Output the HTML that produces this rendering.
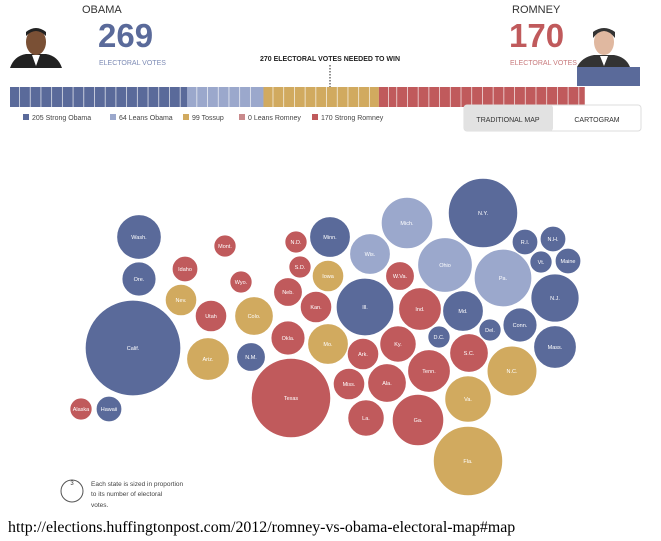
<!DOCTYPE html>
<html><head><meta charset="utf-8"><style>
body{margin:0;background:#fff;width:661px;height:541px;overflow:hidden;font-family:"Liberation Sans",sans-serif}
svg{position:absolute;left:0;top:0}
.url{position:absolute;left:8px;top:519px;font-family:"Liberation Serif",serif;font-size:15.9px;color:#000}
</style></head><body>
<svg width="661" height="541">
<g>
<rect x="10" y="28" width="52" height="40" fill="#fff"/>
<path d="M10 68 Q14 56 26 54 L46 54 Q58 56 62 68 Z" fill="#222"/>
<path d="M32 55 L36 66 L40 55 Z" fill="#fff"/>
<ellipse cx="36" cy="42" rx="10" ry="13" fill="#7a5035"/>
<path d="M26 36 Q36 26 46 36 L46 32 Q36 24 26 32Z" fill="#222"/>
</g>
<g>
<rect x="577" y="67" width="63" height="19" fill="#5a6a9a"/>
<path d="M577 67 Q582 57 594 55 L614 55 Q626 57 630 67 Z" fill="#333"/>
<path d="M600 56 L604 66 L608 56 Z" fill="#fff"/>
<ellipse cx="604" cy="42" rx="10" ry="13" fill="#e0b8a0"/>
<path d="M593 38 Q604 24 615 38 L615 32 Q604 24 593 32Z" fill="#333"/>
</g>
<text x="82" y="13" font-size="11" fill="#333">OBAMA</text>
<text x="98" y="47" font-size="33" font-weight="bold" fill="#5a6a9a">269</text>
<text x="99" y="65" font-size="7" fill="#7d8bb5">ELECTORAL VOTES</text>
<text x="512" y="13" font-size="11" fill="#333">ROMNEY</text>
<text x="509" y="47" font-size="33" font-weight="bold" fill="#c05a5c">170</text>
<text x="510" y="65" font-size="7" fill="#c87a7c">ELECTORAL VOTES</text>
<text x="330" y="61" font-size="7" font-weight="bold" fill="#222" text-anchor="middle">270 ELECTORAL VOTES NEEDED TO WIN</text>
<line x1="330" y1="65" x2="330" y2="88" stroke="#222" stroke-dasharray="1.5,1.5"/>
<g id="bar"></g>
<g id="legend"></g>
<g>
<rect x="464" y="105" width="177" height="26" rx="3" fill="#fff" stroke="#ddd"/>
<rect x="464" y="105" width="89" height="26" rx="3" fill="#e2e2e2"/>
<text x="508" y="122" font-size="7" fill="#333" text-anchor="middle">TRADITIONAL MAP</text>
<text x="597" y="122" font-size="7" fill="#333" text-anchor="middle">CARTOGRAM</text>
</g>
<g id="bubbles"></g>
<circle cx="72" cy="491" r="11" fill="none" stroke="#555"/>
<text x="72" y="485" font-size="6" fill="#333" text-anchor="middle">3</text>
<text font-size="6.5" fill="#444"><tspan x="91" y="486">Each state is sized in proportion</tspan><tspan x="91" y="496">to its number of electoral</tspan><tspan x="91" y="507">votes.</tspan></text>
</svg>
<div class="url">http://elections.huffingtonpost.com/2012/romney-vs-obama-electoral-map#map</div>
<script>
const categories=["Strong Obama","Leans Obama","Tossup","Leans Romney","Strong Romney"];
const legendValues=[205,64,99,0,170];
const barVotes=[149,64,97,0,173];
const colors=["#5a6a9a","#9ba8cc","#d1aa5f","#c98a8c","#c05a5c"];
const stateNames=["Wash.","Ore.","Calif.","Alaska","Hawaii","Idaho","Mont.","Nev.","Wyo.","Utah","Colo.","Ariz.","N.M.","N.D.","S.D.","Minn.","Iowa","Neb.","Kan.","Okla.","Mo.","Texas","Mich.","N.Y.","Wis.","Ohio","Pa.","R.I.","N.H.","Vt.","Maine","N.J.","W.Va.","Ill.","Ind.","Md.","Conn.","Del.","D.C.","Mass.","Ky.","Ark.","S.C.","N.C.","Tenn.","Miss.","Ala.","Va.","La.","Ga.","Fla."];
const stateVotes=[12,7,55,3,4,4,3,6,3,6,9,11,5,3,3,10,6,5,6,7,10,38,16,29,10,18,20,4,4,3,4,14,5,20,11,10,7,3,3,11,8,6,9,15,11,6,9,13,8,16,29];
const stateCat=[0,0,0,4,0,4,4,2,4,4,2,2,0,4,4,0,2,4,4,4,2,4,1,0,1,1,1,0,0,0,0,0,4,0,4,0,0,0,0,0,4,4,4,2,4,4,4,2,4,4,2];
const stateX=[139,139,133,81,109,185,225,181,241,211,254,208,251,296,300,330,328,288,316,288,328,291,407,483,370,445,503,525,553,541,568,555,400,365,420,463,520,490,439,555,398,363,469,512,429,349,387,468,366,418,468];
const stateY=[237,279,348,409,409,269,246,300,282,316,316,359,357,242,267,237,276,292,307,338,344,398,223,213,254,265,278,242,239,262,261,298,276,307,309,311,325,330,337,347,344,354,353,371,371,384,383,399,418,420,461];
const NS="http://www.w3.org/2000/svg";
const barX0=10,barY=87,barH=20,pxPerVote=1.19;
const xv=v=>barX0+v*pxPerVote;
const bar=document.getElementById('bar');
let cum=0;
barVotes.forEach((v,i)=>{
 if(v>0){const r=document.createElementNS(NS,'rect');
 
 
 r.setAttribute('x',xv(cum));r.setAttribute('y',barY);r.setAttribute('width',v*pxPerVote);r.setAttribute('height',barH);r.setAttribute('fill',colors[i]);bar.appendChild(r);
 for(let s=cum+8;s<cum+v-2;s+=(s%3?9:7)){const l=document.createElementNS(NS,'line');
 
 
 l.setAttribute('x1',xv(s));l.setAttribute('x2',xv(s));l.setAttribute('y1',barY);l.setAttribute('y2',barY+barH);l.setAttribute('stroke','#fff');l.setAttribute('stroke-width','0.8');l.setAttribute('opacity','0.8');bar.appendChild(l);}
 }
 cum+=v;
});
const legX=[23,110,183,239,312];
const lg=document.getElementById('legend');
categories.forEach((c,i)=>{
 const r=document.createElementNS(NS,'rect');
 
 
 r.setAttribute('x',legX[i]);r.setAttribute('y',114);r.setAttribute('width',6);r.setAttribute('height',6);r.setAttribute('fill',colors[i]);lg.appendChild(r);
 const t=document.createElementNS(NS,'text');
 
 
 t.setAttribute('x',legX[i]+9);t.setAttribute('y',120);t.setAttribute('font-size','7');t.setAttribute('fill','#444');
 t.textContent=legendValues[i]+' '+c;lg.appendChild(t);
});
const bg=document.getElementById('bubbles');
const rScale=v=>6.45*Math.sqrt(v);
stateNames.forEach((n,i)=>{
 const c=document.createElementNS(NS,'circle');
 
 
 c.setAttribute('cx',stateX[i]);c.setAttribute('cy',stateY[i]);c.setAttribute('r',rScale(stateVotes[i]));c.setAttribute('fill',colors[stateCat[i]]);c.setAttribute('stroke','#fff');c.setAttribute('stroke-width','1');bg.appendChild(c);
 const t=document.createElementNS(NS,'text');
 
 
 t.setAttribute('x',stateX[i]);t.setAttribute('y',stateY[i]+2);t.setAttribute('font-size','5.5');t.setAttribute('fill','#fff');t.setAttribute('text-anchor','middle');
 t.textContent=n;bg.appendChild(t);
});
</script>
</body></html>
